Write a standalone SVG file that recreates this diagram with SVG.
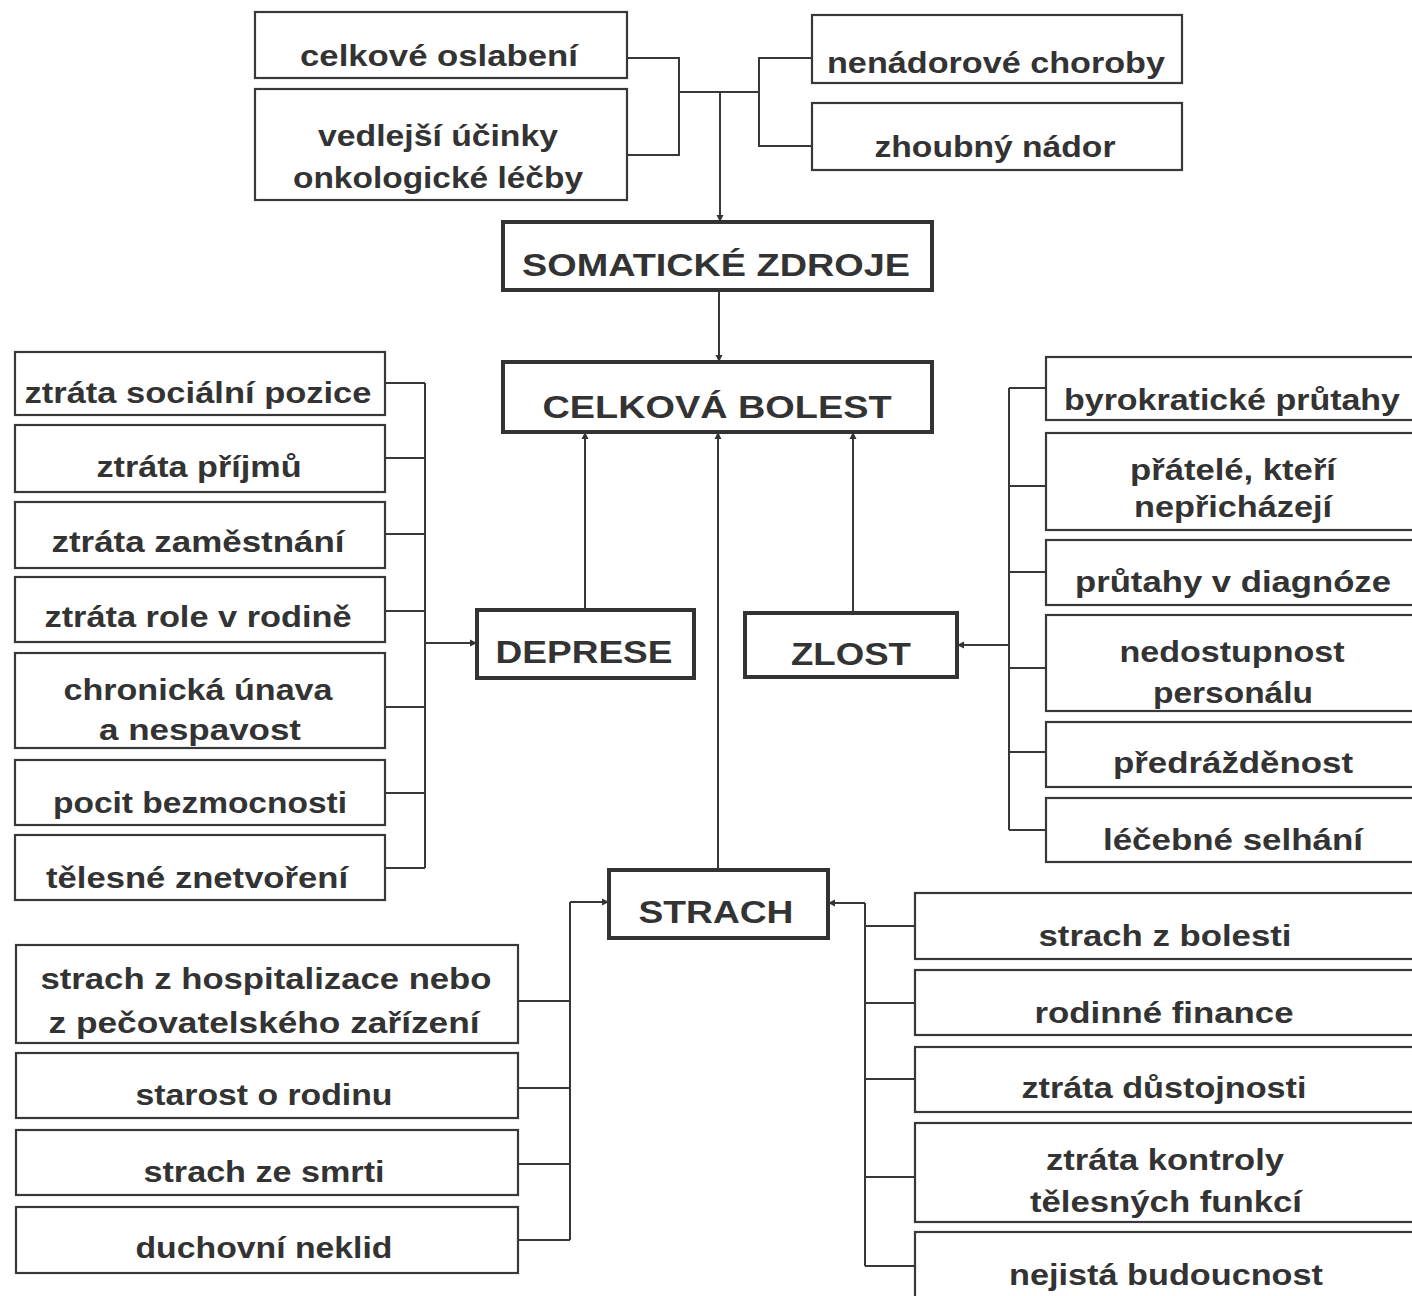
<svg xmlns="http://www.w3.org/2000/svg" width="1412" height="1296" viewBox="0 0 1412 1296">
<style>
.b{fill:#fff;stroke:#383838;stroke-width:2.2}
.m{fill:#fff;stroke:#333;stroke-width:4}
.t{font-family:"Liberation Sans",Arial,sans-serif;font-weight:bold;font-size:29px;fill:#333;text-anchor:middle}
.h{font-family:"Liberation Sans",Arial,sans-serif;font-weight:bold;font-size:31px;fill:#333;text-anchor:middle}
.c{fill:none;stroke:#383838;stroke-width:2}
</style>
<defs>
<marker id="a" markerUnits="userSpaceOnUse" markerWidth="8" markerHeight="8" refX="7" refY="4" orient="auto">
<path d="M0,0.5 L7,4 L0,7.5 z" fill="#333"/>
</marker>
</defs>
<rect width="1412" height="1296" fill="#fff"/>
<g id="connectors">
<path class="c" d="M627,58 H679 V155 H627"/>
<path class="c" d="M679,92 H759"/>
<path class="c" d="M812,58 H759 V146 H812"/>
<path class="c" d="M720,92 V222" marker-end="url(#a)"/>
<path class="c" d="M719,290 V362" marker-end="url(#a)"/>
<path class="c" d="M585,610 V432" marker-end="url(#a)"/>
<path class="c" d="M718,870 V432" marker-end="url(#a)"/>
<path class="c" d="M853,613 V432" marker-end="url(#a)"/>
<path class="c" d="M385,383 H425 M385,458 H425 M385,534 H425 M385,611 H425 M385,707 H425 M385,793 H425 M385,868 H425 M425,383 V868"/>
<path class="c" d="M425,643 H477" marker-end="url(#a)"/>
<path class="c" d="M1009,645 H957" marker-end="url(#a)"/>
<path class="c" d="M1009,388 V830 M1009,388 H1046 M1009,486 H1046 M1009,572 H1046 M1009,668 H1046 M1009,752 H1046 M1009,830 H1046"/>
<path class="c" d="M570,902 H609" marker-end="url(#a)"/>
<path class="c" d="M570,902 V1240 M518,1001 H570 M518,1088 H570 M518,1164 H570 M518,1240 H570"/>
<path class="c" d="M865,903 H828" marker-end="url(#a)"/>
<path class="c" d="M865,903 V1266 M865,926 H915 M865,1003 H915 M865,1079 H915 M865,1177 H915 M865,1266 H915"/>
</g>
<g id="n-celkove-oslabeni"><rect class="b" x="255" y="12" width="372" height="66"/><text class="t" x="439" y="66" textLength="278" lengthAdjust="spacingAndGlyphs">celkové oslabení</text></g>
<g id="n-vedlejsi"><rect class="b" x="255" y="89" width="372" height="111"/><text class="t" x="438" y="146" textLength="240" lengthAdjust="spacingAndGlyphs">vedlejší účinky</text><text class="t" x="438" y="188" textLength="290" lengthAdjust="spacingAndGlyphs">onkologické léčby</text></g>
<g id="n-nenadorove"><rect class="b" x="812" y="15" width="370" height="68"/><text class="t" x="996" y="73" textLength="338" lengthAdjust="spacingAndGlyphs">nenádorové choroby</text></g>
<g id="n-zhoubny"><rect class="b" x="812" y="103" width="370" height="67"/><text class="t" x="995" y="157" textLength="241" lengthAdjust="spacingAndGlyphs">zhoubný nádor</text></g>
<g id="n-somaticke"><rect class="m" x="503" y="222" width="429" height="68"/><text class="h" x="716" y="276" textLength="388" lengthAdjust="spacingAndGlyphs">SOMATICKÉ ZDROJE</text></g>
<g id="n-celkova-bolest"><rect class="m" x="503" y="362" width="429" height="70"/><text class="h" x="717" y="418" textLength="349" lengthAdjust="spacingAndGlyphs">CELKOVÁ BOLEST</text></g>
<g id="n-soc"><rect class="b" x="15" y="352" width="370" height="63"/><text class="t" x="198" y="403" textLength="347" lengthAdjust="spacingAndGlyphs">ztráta sociální pozice</text></g>
<g id="n-prijmu"><rect class="b" x="15" y="425" width="370" height="67"/><text class="t" x="199" y="477" textLength="205" lengthAdjust="spacingAndGlyphs">ztráta příjmů</text></g>
<g id="n-zamest"><rect class="b" x="15" y="502" width="370" height="66"/><text class="t" x="198" y="552" textLength="293" lengthAdjust="spacingAndGlyphs">ztráta zaměstnání</text></g>
<g id="n-role"><rect class="b" x="15" y="577" width="370" height="65"/><text class="t" x="198" y="627" textLength="307" lengthAdjust="spacingAndGlyphs">ztráta role v rodině</text></g>
<g id="n-unava"><rect class="b" x="15" y="653" width="370" height="95"/><text class="t" x="198" y="700" textLength="269" lengthAdjust="spacingAndGlyphs">chronická únava</text><text class="t" x="200" y="740" textLength="202" lengthAdjust="spacingAndGlyphs">a nespavost</text></g>
<g id="n-bezmoc"><rect class="b" x="15" y="760" width="370" height="65"/><text class="t" x="200" y="813" textLength="294" lengthAdjust="spacingAndGlyphs">pocit bezmocnosti</text></g>
<g id="n-znetvoreni"><rect class="b" x="15" y="835" width="370" height="65"/><text class="t" x="197" y="888" textLength="302" lengthAdjust="spacingAndGlyphs">tělesné znetvoření</text></g>
<g id="n-deprese"><rect class="m" x="477" y="610" width="217" height="68"/><text class="h" x="584" y="663" textLength="177" lengthAdjust="spacingAndGlyphs">DEPRESE</text></g>
<g id="n-zlost"><rect class="m" x="745" y="613" width="212" height="64"/><text class="h" x="851" y="665" textLength="120" lengthAdjust="spacingAndGlyphs">ZLOST</text></g>
<g id="n-byro"><rect class="b" x="1046" y="357" width="380" height="63"/><text class="t" x="1232" y="410" textLength="336" lengthAdjust="spacingAndGlyphs">byrokratické průtahy</text></g>
<g id="n-pratele"><rect class="b" x="1046" y="433" width="380" height="97"/><text class="t" x="1233" y="480" textLength="206" lengthAdjust="spacingAndGlyphs">přátelé, kteří</text><text class="t" x="1233" y="517" textLength="198" lengthAdjust="spacingAndGlyphs">nepřicházejí</text></g>
<g id="n-diagnoza"><rect class="b" x="1046" y="540" width="380" height="65"/><text class="t" x="1233" y="592" textLength="316" lengthAdjust="spacingAndGlyphs">průtahy v diagnóze</text></g>
<g id="n-personal"><rect class="b" x="1046" y="615" width="380" height="96"/><text class="t" x="1232" y="662" textLength="225" lengthAdjust="spacingAndGlyphs">nedostupnost</text><text class="t" x="1233" y="703" textLength="160" lengthAdjust="spacingAndGlyphs">personálu</text></g>
<g id="n-predrazdenost"><rect class="b" x="1046" y="722" width="380" height="65"/><text class="t" x="1233" y="773" textLength="240" lengthAdjust="spacingAndGlyphs">předrážděnost</text></g>
<g id="n-selhani"><rect class="b" x="1046" y="798" width="380" height="64"/><text class="t" x="1233" y="850" textLength="260" lengthAdjust="spacingAndGlyphs">léčebné selhání</text></g>
<g id="n-strach"><rect class="m" x="609" y="870" width="219" height="68"/><text class="h" x="716" y="923" textLength="155" lengthAdjust="spacingAndGlyphs">STRACH</text></g>
<g id="n-hosp"><rect class="b" x="16" y="945" width="502" height="98"/><text class="t" x="266" y="989" textLength="451" lengthAdjust="spacingAndGlyphs">strach z hospitalizace nebo</text><text class="t" x="264" y="1033" textLength="431" lengthAdjust="spacingAndGlyphs">z pečovatelského zařízení</text></g>
<g id="n-rodina"><rect class="b" x="16" y="1053" width="502" height="65"/><text class="t" x="264" y="1105" textLength="257" lengthAdjust="spacingAndGlyphs">starost o rodinu</text></g>
<g id="n-smrt"><rect class="b" x="16" y="1130" width="502" height="65"/><text class="t" x="264" y="1182" textLength="241" lengthAdjust="spacingAndGlyphs">strach ze smrti</text></g>
<g id="n-neklid"><rect class="b" x="16" y="1207" width="502" height="66"/><text class="t" x="264" y="1258" textLength="257" lengthAdjust="spacingAndGlyphs">duchovní neklid</text></g>
<g id="n-bolest"><rect class="b" x="915" y="893" width="510" height="66"/><text class="t" x="1165" y="946" textLength="253" lengthAdjust="spacingAndGlyphs">strach z bolesti</text></g>
<g id="n-finance"><rect class="b" x="915" y="970" width="510" height="65"/><text class="t" x="1164" y="1023" textLength="259" lengthAdjust="spacingAndGlyphs">rodinné finance</text></g>
<g id="n-dustojnost"><rect class="b" x="915" y="1047" width="510" height="65"/><text class="t" x="1164" y="1098" textLength="285" lengthAdjust="spacingAndGlyphs">ztráta důstojnosti</text></g>
<g id="n-kontrola"><rect class="b" x="915" y="1123" width="510" height="99"/><text class="t" x="1165" y="1170" textLength="238" lengthAdjust="spacingAndGlyphs">ztráta kontroly</text><text class="t" x="1166" y="1212" textLength="272" lengthAdjust="spacingAndGlyphs">tělesných funkcí</text></g>
<g id="n-budoucnost"><rect class="b" x="915" y="1232" width="510" height="100"/><text class="t" x="1166" y="1285" textLength="314" lengthAdjust="spacingAndGlyphs">nejistá budoucnost</text></g>
</svg>
